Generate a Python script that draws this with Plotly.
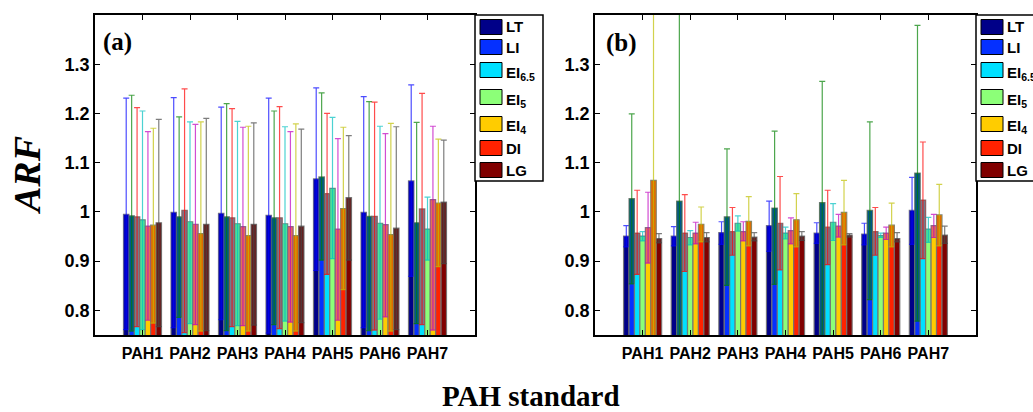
import plotly.graph_objects as go

categories = ["PAH1", "PAH2", "PAH3", "PAH4", "PAH5", "PAH6", "PAH7"]
series_names = ["LT", "LI", "EI<sub>6.5</sub>", "EI<sub>5</sub>", "EI<sub>4</sub>", "DI", "LG"]
bar_colors = ["#000088", "#0530FF", "#00E0FF", "#8CFF78", "#FFCC00", "#FF2200", "#800000"]
err_colors = ["0,0,255", "0,128,0", "255,0,0", "0,191,191", "191,0,191", "191,191,0", "70,70,70"]

# ---- panel (a) ----
LT_a = [0.995, 0.999, 0.997, 0.993, 1.067, 0.999, 1.063]
LT_a_hi = [1.231, 1.232, 1.213, 1.231, 1.252, 1.234, 1.258]
LT_a_lo = [0.761, 0.765, 0.781, 0.754, 0.881, 0.765, 0.869]
LI_a = [0.992, 0.990, 0.990, 0.988, 1.071, 0.991, 0.978]
LI_a_hi = [1.237, 1.193, 1.220, 1.205, 1.242, 1.224, 1.182]
LI_a_lo = [0.758, 0.786, 0.759, 0.771, 0.902, 0.759, 0.773]
EI65_a = [0.990, 1.003, 0.988, 0.988, 1.037, 0.991, 1.006]
EI65_a_hi = [1.212, 1.250, 1.210, 1.214, 1.200, 1.223, 1.241]
EI65_a_lo = [0.767, 0.755, 0.767, 0.763, 0.873, 0.760, 0.771]
EI5_a = [0.984, 0.980, 0.976, 0.976, 1.048, 0.977, 0.965]
EI5_a_hi = [1.205, 1.183, 1.184, 1.173, 1.192, 1.174, 1.030]
EI5_a_lo = [0.761, 0.773, 0.769, 0.778, 0.905, 0.782, 0.902]
EI4_a = [0.971, 0.975, 0.970, 0.970, 0.965, 0.974, 1.025]
EI4_a_hi = [1.163, 1.178, 1.172, 1.163, 1.149, 1.159, 1.174]
EI4_a_lo = [0.780, 0.771, 0.769, 0.776, 0.780, 0.787, 0.760]
DI_a = [0.973, 0.956, 0.952, 0.952, 1.007, 0.954, 1.018]
DI_a_hi = [1.170, 1.183, 1.174, 1.179, 1.172, 1.180, 1.148]
DI_a_lo = [0.774, 0.758, 0.758, 0.758, 0.842, 0.758, 0.889]
LG_a = [0.978, 0.975, 0.975, 0.971, 1.029, 0.967, 1.020]
LG_a_hi = [1.188, 1.190, 1.181, 1.168, 1.155, 1.173, 1.146]
LG_a_lo = [0.767, 0.759, 0.770, 0.775, 0.902, 0.761, 0.895]

# ---- panel (b) ----
LT_b = [0.951, 0.951, 0.958, 0.972, 0.957, 0.955, 1.003]
LT_b_hi = [0.972, 0.970, 0.980, 1.022, 0.978, 0.977, 1.070]
LT_b_lo = [0.929, 0.931, 0.934, 0.920, 0.936, 0.933, 0.934]
LI_b = [1.027, 1.022, 0.990, 1.008, 1.019, 1.003, 1.079]
LI_b_hi = [1.199, 1.450, 1.128, 1.164, 1.265, 1.183, 1.379]
LI_b_lo = [0.854, 0.600, 0.851, 0.853, 0.740, 0.822, 0.778]
EI65_b = [0.957, 0.957, 0.960, 0.977, 0.969, 0.960, 1.024]
EI65_b_hi = [1.044, 1.035, 1.009, 1.072, 1.044, 1.009, 1.142]
EI65_b_lo = [0.873, 0.879, 0.912, 0.882, 0.893, 0.912, 0.905]
EI5_b = [0.951, 0.948, 0.977, 0.957, 0.979, 0.952, 0.965]
EI5_b_hi = [0.960, 0.962, 0.992, 0.969, 1.017, 0.957, 0.989]
EI5_b_lo = [0.941, 0.933, 0.961, 0.945, 0.942, 0.948, 0.938]
EI4_b = [0.968, 0.957, 0.960, 0.962, 0.971, 0.957, 0.972]
EI4_b_hi = [1.040, 0.979, 0.980, 0.988, 0.995, 0.969, 0.995]
EI4_b_lo = [0.896, 0.935, 0.941, 0.935, 0.949, 0.944, 0.948]
DI_b = [1.064, 0.975, 0.981, 0.984, 0.999, 0.973, 0.994]
DI_b_hi = [1.500, 1.010, 1.031, 1.037, 1.064, 1.018, 1.056]
DI_b_lo = [0.700, 0.939, 0.931, 0.929, 0.933, 0.929, 0.931]
LG_b = [0.946, 0.948, 0.949, 0.951, 0.953, 0.946, 0.953]
LG_b_hi = [0.956, 0.958, 0.958, 0.960, 0.956, 0.958, 0.971]
LG_b_lo = [0.937, 0.939, 0.941, 0.942, 0.949, 0.939, 0.936]

panel_a = [(LT_a, LT_a_hi, LT_a_lo), (LI_a, LI_a_hi, LI_a_lo), (EI65_a, EI65_a_hi, EI65_a_lo),
           (EI5_a, EI5_a_hi, EI5_a_lo), (EI4_a, EI4_a_hi, EI4_a_lo), (DI_a, DI_a_hi, DI_a_lo),
           (LG_a, LG_a_hi, LG_a_lo)]
panel_b = [(LT_b, LT_b_hi, LT_b_lo), (LI_b, LI_b_hi, LI_b_lo), (EI65_b, EI65_b_hi, EI65_b_lo),
           (EI5_b, EI5_b_hi, EI5_b_lo), (EI4_b, EI4_b_hi, EI4_b_lo), (DI_b, DI_b_hi, DI_b_lo),
           (LG_b, LG_b_hi, LG_b_lo)]

W, H = 1033, 412
fig = go.Figure()

def add_panel(panel, xa, ya):
    for i, (vals, hi, lo) in enumerate(panel):
        fig.add_trace(go.Bar(
            x=categories, y=vals, name=series_names[i], xaxis=xa, yaxis=ya,
            showlegend=False, offsetgroup=str(i),
            marker=dict(color=bar_colors[i], line=dict(color="rgba(115,115,115,0.9)", width=1.2)),
            error_y=dict(type="data", symmetric=False,
                         array=[h - v for h, v in zip(hi, vals)],
                         arrayminus=[v - l for v, l in zip(vals, lo)],
                         color="rgba(%s,0.7)" % err_colors[i], thickness=1.2, width=3),
        ))
    for i, (vals, hi, lo) in enumerate(panel):
        fig.add_trace(go.Bar(
            x=categories, y=[v - l for v, l in zip(vals, lo)], base=lo,
            xaxis=xa, yaxis=ya, offsetgroup=str(i), showlegend=False, hoverinfo="skip",
            marker=dict(color="rgba(%s,0.45)" % err_colors[i], line=dict(width=0)),
        ))

add_panel(panel_a, "x", "y")
add_panel(panel_b, "x2", "y2")

tickfont = dict(family="Liberation Sans, Arial, sans-serif", size=16, color="black", weight="bold")
ytickfont = dict(family="Liberation Sans, Arial, sans-serif", size=18, color="black", weight="bold")
ydom = [1 - 335 / H, 1 - 15 / H]
yvals = [0.8, 0.9, 1.0, 1.1, 1.2, 1.3]
ytext = ["0.8", "0.9", "1", "1.1", "1.2", "1.3"]

def xaxis(dom):
    return dict(domain=dom, type="category", range=[-1, 7], showline=True, linecolor="black",
                linewidth=1.5, mirror="ticks", ticks="inside", ticklen=5, tickcolor="black",
                showgrid=False, zeroline=False, tickfont=tickfont, ticklabelstandoff=3)

def yaxis(anchor):
    return dict(domain=ydom, anchor=anchor, range=[0.75, 1.40], tickvals=yvals, ticktext=ytext,
                showline=True, linecolor="black", linewidth=1.5, mirror="ticks", ticks="inside",
                ticklen=5, tickcolor="black", showgrid=False, zeroline=False, tickfont=ytickfont)

serif = "Liberation Serif, Times New Roman, serif"
annotations = [
    dict(text="<b><i>ARF</i></b>", x=27 / W, y=1 - 175 / H, xref="paper", yref="paper",
         xanchor="center", yanchor="middle", showarrow=False, textangle=-90,
         font=dict(family=serif, size=38, color="black")),
    dict(text="<b>PAH standard</b>", x=531 / W, y=1 - 396 / H, xref="paper", yref="paper",
         xanchor="center", yanchor="middle", showarrow=False,
         font=dict(family=serif, size=29, color="black")),
    dict(text="<b>(a)</b>", x=117 / W, y=1 - 42 / H, xref="paper", yref="paper",
         xanchor="center", yanchor="middle", showarrow=False,
         font=dict(family=serif, size=25, color="black")),
    dict(text="<b>(b)</b>", x=621 / W, y=1 - 43 / H, xref="paper", yref="paper",
         xanchor="center", yanchor="middle", showarrow=False,
         font=dict(family=serif, size=25, color="black")),
]

# hand-drawn legends (box, swatches, labels) to match the reference layout
shapes = []
legend_left = [475, 976]
legend_rows = [27, 47, 70, 97, 124, 148, 170]
legfont = dict(family="Liberation Sans, Arial, sans-serif", size=15, color="black", weight="bold")
for lx in legend_left:
    shapes.append(dict(type="rect", xref="paper", yref="paper", x0=lx / W, x1=(lx + 68) / W,
                       y0=1 - 181 / H, y1=1 - 15 / H, line=dict(color="black", width=1.5),
                       fillcolor="white", layer="above"))
    for i, name in enumerate(series_names):
        yc = legend_rows[i]
        shapes.append(dict(type="rect", xref="paper", yref="paper",
                           x0=(lx + 5) / W, x1=(lx + 27) / W,
                           y0=1 - (yc + 7.5) / H, y1=1 - (yc - 7.5) / H,
                           line=dict(color="black", width=1), fillcolor=bar_colors[i], layer="above"))
        annotations.append(dict(text=name, x=(lx + 29) / W, y=1 - yc / H, xref="paper", yref="paper",
                                xanchor="left", yanchor="middle", showarrow=False,
                                yshift=-3 if "sub" in name else 0, font=legfont))

fig.update_layout(
    width=W, height=H, margin=dict(l=0, r=0, t=0, b=0, autoexpand=False),
    paper_bgcolor="white", plot_bgcolor="white",
    barmode="group", bargap=0.2, bargroupgap=0.0, showlegend=False,
    xaxis=xaxis([95 / W, 475 / W]), yaxis=yaxis("x"),
    xaxis2=xaxis([595 / W, 976 / W]), yaxis2=yaxis("x2"),
    annotations=annotations, shapes=shapes,
)

fig.write_html("out.html")
